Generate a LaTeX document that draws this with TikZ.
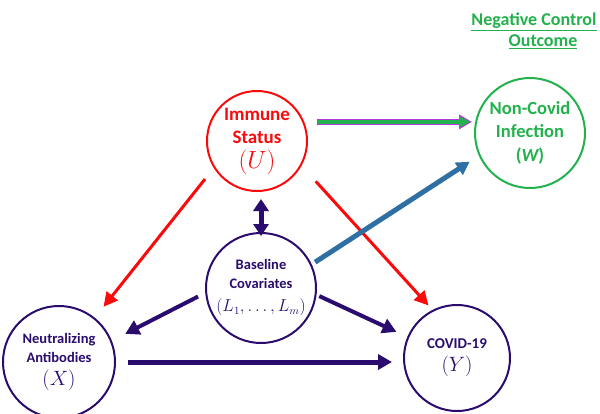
\documentclass[tikz,border=0pt]{standalone}
\usepackage{fontspec}
\setmainfont{Carlito}
\usetikzlibrary{arrows.meta, positioning}
\definecolor{dagpurple}{RGB}{42,12,110}
\definecolor{dagred}{RGB}{250,10,10}
\definecolor{daggreen}{RGB}{34,177,76}
\definecolor{dagblue}{RGB}{46,112,164}
\definecolor{dagviolet}{RGB}{180,60,220}
\tikzset{
	varnode/.style={circle, draw=dagpurple, line width=2pt, text=dagpurple, inner sep=0pt, align=center},
	redarrow/.style={draw=dagred, line width=3pt, -{Triangle[length=14pt, width=14pt]}},
	causal/.style={draw=dagpurple, line width=4pt, -{Triangle[length=14pt, width=15pt]}}
}

\begin{document}
\begin{tikzpicture}[x=1pt, y=-1pt]
	\useasboundingbox (0,0) rectangle (600,413);

	% variables
	\node[varnode, draw=dagred, text=dagred, minimum size=100pt, font=\bfseries\fontsize{19}{23}\selectfont] (U) at (257,141) {Immune\\Status\\[2pt]{\fontsize{24}{24}\selectfont $(U)$}};
	\node[varnode, draw=daggreen, text=daggreen, minimum size=110pt, font=\bfseries\fontsize{18.5}{23}\selectfont] (W) at (530,133) {Non-Covid\\Infection\\[1pt]({\itshape W})};
	\node[varnode, minimum size=110pt, font=\bfseries\fontsize{14.5}{19}\selectfont] (L) at (261,288) {Baseline\\Covariates\\[4pt]{\fontsize{16}{16}\selectfont $(L_1,\ldots,L_m)$}};
	\node[varnode, minimum size=112pt, font=\bfseries\fontsize{14.5}{19}\selectfont] (X) at (59,362) {Neutralizing\\Antibodies\\[4pt]{\fontsize{22}{22}\selectfont $(X)$}};
	\node[varnode, minimum size=106pt, font=\bfseries\fontsize{15}{19}\selectfont] (Y) at (457,358) {COVID-19\\[4pt]{\fontsize{22}{22}\selectfont $(Y)$}};

	\node[text=daggreen, font=\bfseries\fontsize{18}{21}\selectfont, align=center] (title) at (534,31) {\underline{Negative Control}\\\hspace*{18pt}\underline{Outcome}};

	% arrows
	\draw[redarrow, shorten <=14pt, shorten >=14pt] (U.212) -- (X.51);
	\draw[redarrow, shorten <=21pt, shorten >=6pt] (U.331) -- (Y.117);
	\draw[causal, line width=5pt, {Triangle[length=12pt, width=15pt]}-{Triangle[length=12pt, width=15pt]}, shorten <=7pt, shorten >=-4pt] (L.north |- U.south) -- (L.north);
	\draw[dagviolet, line width=6pt, -{Triangle[length=13pt, width=14pt]}, shorten <=13pt, shorten >=2pt] (U.22) -- (U.22 -| W.west);
	\draw[daggreen, line width=3.5pt, -{Triangle[length=11pt, width=10pt]}, shorten <=14pt, shorten >=3.5pt] (U.22) -- (U.22 -| W.west);
	\draw[dagblue, line width=5pt, -{Triangle[length=13pt, width=14pt]}, shorten <=4pt, shorten >=11pt] (L.25) -- (W.204);
	\draw[causal, shorten <=8pt, shorten >=15pt] (L.185) -- (X.22);
	\draw[causal, shorten <=3pt, shorten >=12pt] (L.353) -- (Y.157);
	\draw[causal, line width=5pt, shorten <=12pt, shorten >=11pt] (X.east) -- (X.east -| Y.west);
\end{tikzpicture}
\end{document}
